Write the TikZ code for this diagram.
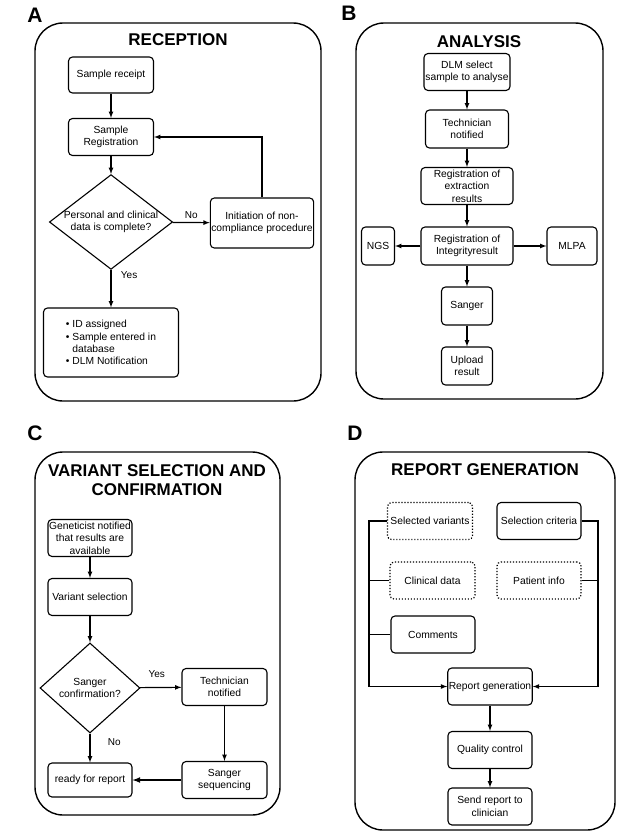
\documentclass[tikz,border=0pt]{standalone}
\usepackage{fontspec}
\setmainfont{Liberation Sans}
\usetikzlibrary{positioning,shapes.geometric}
\tikzset{panel/.style = {draw, line width=1.4pt, rounded corners=28pt}}
\tikzset{stepbox/.style = {draw, line width=1.1pt, rounded corners=4pt, align=center, inner sep=1pt, minimum width=84pt, minimum height=37pt, font=\fontsize{10.3}{12.5}\selectfont}}
\tikzset{dotbox/.style = {stepbox, dash pattern=on 1.2pt off 1.8pt, line width=1.2pt}}
\tikzset{decision/.style = {draw, diamond, line width=1.1pt, align=center, inner sep=0pt, font=\fontsize{10.3}{12.5}\selectfont}}
\tikzset{heading/.style = {font=\fontsize{17}{19.5}\selectfont\bfseries, align=center}}
\tikzset{letter/.style = {font=\fontsize{21}{24}\selectfont\bfseries}}
\tikzset{tag/.style = {font=\fontsize{10}{12}\selectfont}}

\begin{document}
\begin{tikzpicture}[x=1pt, y=-1pt, >=latex, line width=1.2pt]
  \useasboundingbox (0,0) rectangle (630,838);

  % panels
  \draw[panel] (35,23) rectangle (321,401);
  \draw[panel] (356,23) rectangle (603,399);
  \draw[panel] (35,452) rectangle (280,815);
  \draw[panel] (355,452) rectangle (615,830);

  \node[letter] (letA) at (35,15) {A};
  \node[letter] (letB) at (349,13) {B};
  \node[letter] (letC) at (35,433) {C};
  \node[letter] (letD) at (355,433) {D};

  % A: reception
  \node[heading] (recT) at (178,40) {RECEPTION};
  \node[stepbox, minimum width=85pt, minimum height=36pt] (receipt) at (111,75) {Sample receipt};
  \node[stepbox, minimum width=85pt] (regis) at (111,137) {Sample\\Registration};
  \node[decision, minimum width=116pt, minimum height=89pt, shape aspect=1.3] (complete) at (111,222) {Personal and clinical\\data is complete?};
  \node[stepbox, minimum width=103pt, minimum height=50pt] (noncomp) at (262,223) {Initiation of non-\\compliance procedure};
  \node[stepbox, align=left, minimum width=135pt, minimum height=69pt, font=\fontsize{10.3}{12.3}\selectfont] (assign) at (111,342.5)
    {\textbullet\ ID assigned\\\textbullet\ Sample entered in\\\phantom{\textbullet\ }database\\\textbullet\ DLM Notification};

  \draw[->] (receipt) -- (regis);
  \draw[->] (regis) -- (complete);
  \draw[->] (complete) -- node[tag, above] {No} (noncomp);
  \draw[->] (noncomp.north) |- (regis.east);
  \draw[->] (complete) -- node[tag, right=6pt, pos=0.15] {Yes} (assign);

  % B: analysis
  \node[heading] (anaT) at (479,42) {ANALYSIS};
  \node[stepbox, minimum width=86pt] (dlm) at (467,72) {DLM select\\sample to analyse};
  \node[stepbox, minimum width=83pt, minimum height=38pt] (tech) at (467,129) {Technician\\notified};
  \node[stepbox, minimum width=92pt] (extract) at (467,186) {Registration of\\extraction\\results};
  \node[stepbox, minimum width=92pt, minimum height=38pt] (integ) at (467,246) {Registration of\\Integrityresult};
  \node[stepbox, minimum width=33pt, minimum height=38pt] (ngs) at (378,246) {NGS};
  \node[stepbox, minimum width=50pt, minimum height=38pt] (mlpa) at (572,246) {MLPA};
  \node[stepbox, minimum width=51pt, minimum height=38pt] (sanger) at (467,306) {Sanger};
  \node[stepbox, minimum width=51pt, minimum height=38pt] (upload) at (467,366) {Upload\\result};

  \draw[->] (dlm) -- (tech);
  \draw[->] (tech) -- (extract);
  \draw[->] (extract) -- (integ);
  \draw[->] (integ) -- (ngs);
  \draw[->] (integ) -- (mlpa);
  \draw[->] (integ) -- (sanger);
  \draw[->] (sanger) -- (upload);

  % C: variant selection
  \node[heading] (varT) at (157,480) {VARIANT SELECTION AND\\CONFIRMATION};
  \node[stepbox] (genet) at (90,538) {Geneticist notified\\that results are\\available};
  \node[stepbox] (varsel) at (90,597) {Variant selection};
  \node[decision, minimum width=100pt, minimum height=90pt, shape aspect=1.1] (sangconf) at (90,688) {Sanger\\confirmation?};
  \node[stepbox, minimum width=85pt] (tech2) at (224.5,687) {Technician\\notified};
  \node[stepbox, minimum height=34pt] (ready) at (90,780) {ready for report};
  \node[stepbox, minimum width=85pt] (seqn) at (224.5,780) {Sanger\\sequencing};

  \draw[->] (genet) -- (varsel);
  \draw[->] (varsel) -- (sangconf);
  \draw[->] (sangconf) -- node[tag, above=6pt, pos=0.4] {Yes} (tech2);
  \draw[->] (sangconf) -- node[tag, right=14pt, pos=0.3] {No} (ready);
  \draw[->] (tech2) -- (seqn);
  \draw[->, line width=1.6pt] (seqn) -- (ready);

  % D: report generation
  \node[heading] (repT) at (485,470) {REPORT GENERATION};
  \node[dotbox, minimum width=85pt] (selvar) at (430,521) {Selected variants};
  \node[stepbox] (selcrit) at (539,521) {Selection criteria};
  \node[dotbox, minimum width=85pt] (clin) at (432.5,580.5) {Clinical data};
  \node[dotbox] (patient) at (539,580.5) {Patient info};
  \node[stepbox] (comments) at (433,634.5) {Comments};
  \node[stepbox] (repgen) at (490,686.5) {Report generation};
  \node[stepbox] (quality) at (490,750) {Quality control};
  \node[stepbox] (send) at (490,806.5) {Send report to\\clinician};
  \coordinate (lbus) at (369,686.5);
  \coordinate (rbus) at (598,686.5);

  \draw[->] (selvar.west) -| (lbus) -- (repgen.west);
  \draw (clin.west) -- (clin.west -| lbus);
  \draw (comments.west) -- (comments.west -| lbus);
  \draw[->] (selcrit.east) -| (rbus) -- (repgen.east);
  \draw (patient.east) -- (patient.east -| rbus);
  \draw[->] (repgen) -- (quality);
  \draw[->] (quality) -- (send);
\end{tikzpicture}
\end{document}
